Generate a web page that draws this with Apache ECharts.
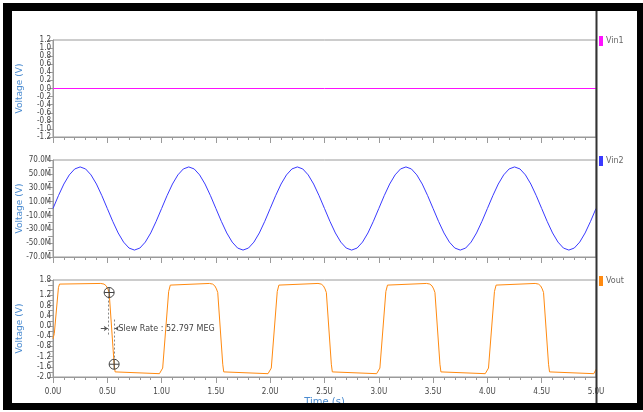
<!DOCTYPE html>
<html><head><meta charset="utf-8">
<script src="https://cdn.jsdelivr.net/npm/echarts@6/dist/echarts.min.js"></script>
<style>html,body{margin:0;padding:0;background:#fff;}#c{width:643px;height:412px;}</style>
</head><body><div id="c"></div>
<script>
// ---- data (time in µs, Vin2 in mV, others in V) ----
const vin1Time = [0, 5];
const vin1Values = [0, 0];

const vin2Time = [0,0.05,0.1,0.15,0.2,0.25,0.3,0.35,0.4,0.45,0.5,0.55,0.6,0.65,0.7,0.75,0.8,0.85,0.9,0.95,
  1,1.05,1.1,1.15,1.2,1.25,1.3,1.35,1.4,1.45,1.5,1.55,1.6,1.65,1.7,1.75,1.8,1.85,1.9,1.95,
  2,2.05,2.1,2.15,2.2,2.25,2.3,2.35,2.4,2.45,2.5,2.55,2.6,2.65,2.7,2.75,2.8,2.85,2.9,2.95,
  3,3.05,3.1,3.15,3.2,3.25,3.3,3.35,3.4,3.45,3.5,3.55,3.6,3.65,3.7,3.75,3.8,3.85,3.9,3.95,
  4,4.05,4.1,4.15,4.2,4.25,4.3,4.35,4.4,4.45,4.5,4.55,4.6,4.65,4.7,4.75,4.8,4.85,4.9,4.95,5];
const vin2Values = [0,18.5,35.3,48.5,57.1,60,57.1,48.5,35.3,18.5,0,-18.5,-35.3,-48.5,-57.1,-60,-57.1,-48.5,-35.3,-18.5,
  0,18.5,35.3,48.5,57.1,60,57.1,48.5,35.3,18.5,0,-18.5,-35.3,-48.5,-57.1,-60,-57.1,-48.5,-35.3,-18.5,
  0,18.5,35.3,48.5,57.1,60,57.1,48.5,35.3,18.5,0,-18.5,-35.3,-48.5,-57.1,-60,-57.1,-48.5,-35.3,-18.5,
  0,18.5,35.3,48.5,57.1,60,57.1,48.5,35.3,18.5,0,-18.5,-35.3,-48.5,-57.1,-60,-57.1,-48.5,-35.3,-18.5,
  0,18.5,35.3,48.5,57.1,60,57.1,48.5,35.3,18.5,0,-18.5,-35.3,-48.5,-57.1,-60,-57.1,-48.5,-35.3,-18.5,0];

const voutTime = [0,0.012,0.05,0.06,0.075,0.44,0.47,0.49,0.505,0.517,0.563,0.572,0.585,
  0.98,0.995,1.01,1.065,1.08,1.095,1.44,1.47,1.49,1.505,1.517,1.563,1.572,1.585,
  1.98,1.995,2.01,2.065,2.08,2.095,2.44,2.47,2.49,2.505,2.517,2.563,2.572,2.585,
  2.98,2.995,3.01,3.065,3.08,3.095,3.44,3.47,3.49,3.505,3.517,3.563,3.572,3.585,
  3.98,3.995,4.01,4.065,4.08,4.095,4.44,4.47,4.49,4.505,4.517,4.563,4.572,4.585,
  4.98,4.995,5.0];
const voutValues = [-0.5,-0.3,1.5,1.64,1.67,1.665,1.64,1.57,1.45,1.31,-1.5,-1.8,-1.87,
  -1.87,-1.84,-1.65,1.35,1.6,1.67,1.665,1.64,1.57,1.45,1.31,-1.5,-1.8,-1.87,
  -1.87,-1.84,-1.65,1.35,1.6,1.67,1.665,1.64,1.57,1.45,1.31,-1.5,-1.8,-1.87,
  -1.87,-1.84,-1.65,1.35,1.6,1.67,1.665,1.64,1.57,1.45,1.31,-1.5,-1.8,-1.87,
  -1.87,-1.84,-1.65,1.35,1.6,1.67,1.665,1.64,1.57,1.45,1.31,-1.5,-1.8,-1.87,
  -1.87,-1.8,-1.7];

// tick / label values
const vin1LabelValues = [-1.2,-1.0,-0.8,-0.6,-0.4,-0.2,0,0.2,0.4,0.6,0.8,1.0,1.2];
const vin2LabelValues = [-70,-50,-30,-10,10,30,50,70];
const vin2TickValues = [-70,-60,-50,-40,-30,-20,-10,0,10,20,30,40,50,60,70];
const voutLabelValues = [-2.0,-1.6,-1.2,-0.8,-0.4,0,0.4,0.8,1.2,1.8];
const voutTickValues = [-2.0,-1.8,-1.6,-1.4,-1.2,-1.0,-0.8,-0.6,-0.4,-0.2,0,0.2,0.4,0.6,0.8,1.0,1.2,1.4,1.6,1.8];

// slew-rate annotation points (data coords)
const cursorA = [0.517, 1.31];
const cursorB = [0.563, -1.5];
const slewText = 'Slew Rate : 52.797 MEG';

const zip = (a, b) => a.map((t, i) => [t, b[i]]);

const LBL_FONT = "'Liberation Sans Narrow','DejaVu Sans Condensed','Liberation Sans',sans-serif";
const AX = '#9a9a9a';
const gridTops = [40, 160, 280];
const GH = 97;

const grids = gridTops.map(t => ({left: 53, right: 47, top: t, height: GH, containLabel: false,
  show: true, borderColor: AX, borderWidth: 1, backgroundColor: 'transparent'}));

const xAxes = gridTops.map((t, i) => ({
  type: 'value', gridIndex: i, min: 0, max: 5, interval: 0.5, position: 'bottom',
  axisLine: {show: true, onZero: false, lineStyle: {color: AX, width: 1}},
  axisTick: {show: true, length: 6, lineStyle: {color: AX}},
  minorTick: {show: true, splitNumber: 5, length: 3, lineStyle: {color: AX}},
  splitLine: {show: false}, minorSplitLine: {show: false},
  axisLabel: {show: i === 2, fontSize: 8, fontFamily: LBL_FONT, color: '#444', margin: 11,
    formatter: v => v.toFixed(1) + 'U'},
  name: i === 2 ? 'Time (s)' : '', nameLocation: 'middle', nameGap: 20, nameMoveOverlap: false,
  nameTextStyle: {color: '#4a8bd0', fontSize: 10, fontFamily: 'DejaVu Sans'}
}));

const yName = {name: 'Voltage (V)', nameLocation: 'middle', nameGap: 29, nameMoveOverlap: false,
  nameTextStyle: {color: '#4a8bd0', fontSize: 9, fontFamily: 'DejaVu Sans'}};
const yBase = {
  type: 'value', axisLine: {show: true, onZero: false, lineStyle: {color: AX}},
  splitLine: {show: false}
};
const yAxes = [
  Object.assign({}, yBase, yName, {gridIndex: 0, min: -1.2, max: 1.2,
    axisTick: {show: true, length: 5, customValues: vin1LabelValues, lineStyle: {color: AX}},
    axisLabel: {customValues: vin1LabelValues, fontSize: 8, fontFamily: LBL_FONT, color: '#444', margin: 2,
      formatter: v => v.toFixed(1)}}),
  Object.assign({}, yBase, yName, {gridIndex: 1, min: -70, max: 70,
    axisTick: {show: true, length: 5, customValues: vin2TickValues, lineStyle: {color: AX}},
    axisLabel: {customValues: vin2LabelValues, fontSize: 8, fontFamily: LBL_FONT, color: '#444', margin: 2,
      formatter: v => v.toFixed(1) + 'M'}}),
  Object.assign({}, yBase, yName, {gridIndex: 2, min: -2.0, max: 1.8,
    axisTick: {show: true, length: 5, customValues: voutTickValues, lineStyle: {color: AX}},
    axisLabel: {customValues: voutLabelValues, fontSize: 8, fontFamily: LBL_FONT, color: '#444', margin: 2,
      formatter: v => v.toFixed(1)}})
];

const crossPath = 'path://M0,-10A10,10 0 1,1 0,10A10,10 0 1,1 0,-10Z M-10,0L10,0 M0,-10L0,10';
const annY = -0.1;

const series = [
  {name: 'Vin1', type: 'line', xAxisIndex: 0, yAxisIndex: 0, data: zip(vin1Time, vin1Values),
    showSymbol: false, color: '#ff10ff', lineStyle: {width: 1}, animation: false},
  {name: 'Vin2', type: 'line', xAxisIndex: 1, yAxisIndex: 1, data: zip(vin2Time, vin2Values),
    showSymbol: false, color: '#3a3aff', lineStyle: {width: 1}, animation: false},
  {name: 'Vout', type: 'line', xAxisIndex: 2, yAxisIndex: 2, data: zip(voutTime, voutValues),
    showSymbol: false, color: '#ff8a10', lineStyle: {width: 1}, animation: false,
    markPoint: {
      silent: true, animation: false,
      data: [
        {coord: cursorA, symbol: crossPath, symbolSize: 10,
          itemStyle: {color: 'none', borderColor: '#444', borderWidth: 1}, label: {show: false}},
        {coord: cursorB, symbol: crossPath, symbolSize: 10,
          itemStyle: {color: 'none', borderColor: '#444', borderWidth: 1}, label: {show: false}},
        {coord: [0.585, annY], symbol: 'circle', symbolSize: 0,
          label: {show: true, position: 'right', distance: 2, formatter: slewText,
            fontSize: 8, fontFamily: "'DejaVu Sans',sans-serif", color: '#444'}}
      ]
    },
    markLine: {
      silent: true, animation: false, symbol: ['none', 'none'], label: {show: false},
      lineStyle: {color: '#888', type: [2, 2], width: 1},
      data: [
        [{coord: [0.51, 1.15]}, {coord: [0.51, -0.4]}],
        [{coord: [0.566, 0.25]}, {coord: [0.566, -1.25]}],
        [{coord: [0.44, annY], lineStyle: {type: 'solid', color: '#555'}},
         {coord: [0.505, annY], symbol: 'arrow', symbolSize: 4}],
        [{coord: [0.595, annY], lineStyle: {type: 'solid', color: '#555'}},
         {coord: [0.57, annY], symbol: 'arrow', symbolSize: 4}]
      ]
    }
  }
];

const legends = ['Vin1', 'Vin2', 'Vout'].map((n, i) => ({
  data: [n], left: 599, top: gridTops[i] - 4, orient: 'vertical', icon: 'rect',
  itemWidth: 4, itemHeight: 10, padding: 0, selectedMode: false,
  textStyle: {fontSize: 8, color: '#666', fontFamily: "'DejaVu Sans',sans-serif", padding: [0, 0, 0, -2]}
}));

const graphic = [
  {type: 'rect', shape: {x: 595.5, y: 11, width: 2, height: 392}, style: {fill: '#333'}, z: 100},
  {type: 'rect', shape: {x: 3, y: 3, width: 640, height: 8}, style: {fill: '#000'}, z: 100},
  {type: 'rect', shape: {x: 3, y: 3, width: 9, height: 407}, style: {fill: '#000'}, z: 100},
  {type: 'rect', shape: {x: 3, y: 403, width: 640, height: 7}, style: {fill: '#000'}, z: 100},
  {type: 'rect', shape: {x: 637, y: 3, width: 6, height: 407}, style: {fill: '#000'}, z: 100}
];

const chart = echarts.init(document.getElementById('c'), null, {renderer: 'canvas'});
chart.setOption({
  backgroundColor: '#fff', animation: false,
  grid: grids, xAxis: xAxes, yAxis: yAxes, series, legend: legends, graphic
});
</script></body></html>
